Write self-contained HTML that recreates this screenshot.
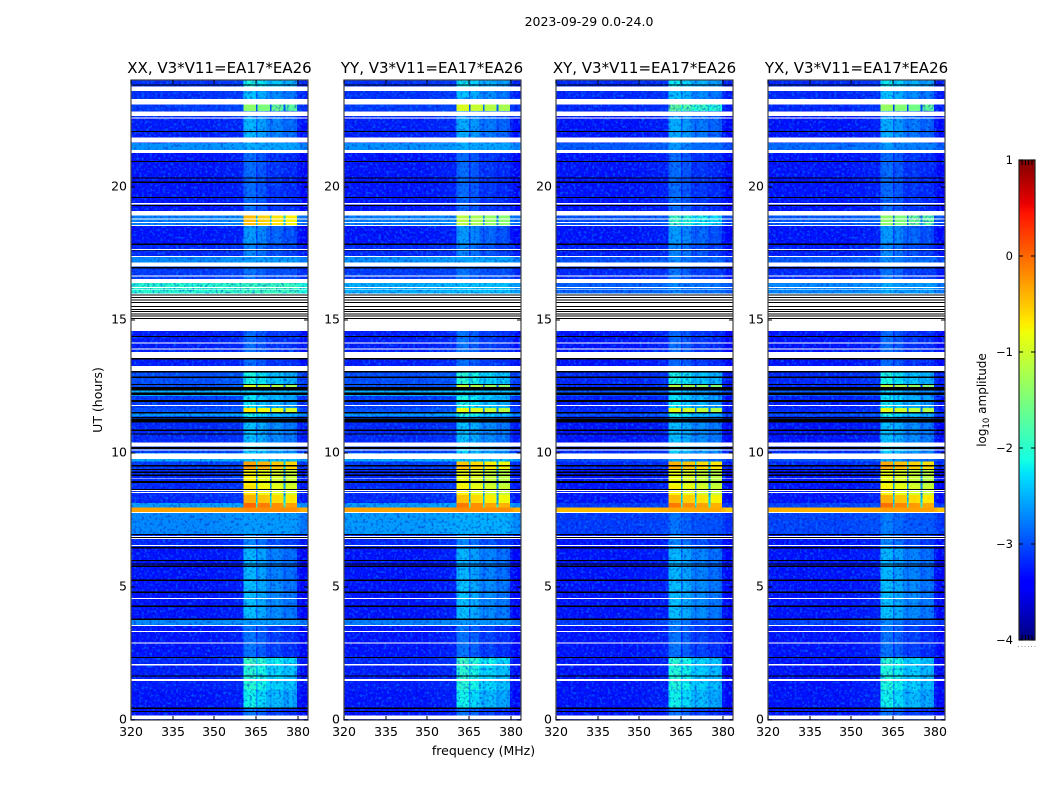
<!DOCTYPE html>
<html lang="en">
<head>
<meta charset="utf-8">
<title>2023-09-29 0.0-24.0</title>
<style>
html,body{margin:0;padding:0;background:#fff;}
svg{display:block;}
text{font-family:"DejaVu Sans","Liberation Sans",sans-serif;fill:#000;}
</style>
</head>
<body>
<svg id="chart" xmlns="http://www.w3.org/2000/svg" width="1050" height="800" viewBox="0 0 1050 800">
  <defs>
    <filter id="speckle-light" x="0" y="0" width="100%" height="100%" color-interpolation-filters="sRGB">
      <feTurbulence type="fractalNoise" baseFrequency="0.38" numOctaves="2" seed="3"/>
      <feColorMatrix type="matrix" values="0 0 0 0 0  0 0 0 0 0.6  0 0 0 0 1  4 0 0 0 -2.0"/>
    </filter>
    <filter id="speckle-dark" x="0" y="0" width="100%" height="100%" color-interpolation-filters="sRGB">
      <feTurbulence type="fractalNoise" baseFrequency="0.38" numOctaves="2" seed="11"/>
      <feColorMatrix type="matrix" values="0 0 0 0 0  0 0 0 0 0  0 0 0 0 0.7  0 4 0 0 -2.0"/>
    </filter>
  </defs>
  <rect x="0" y="0" width="1050" height="800" fill="#fff"/>
  <text x="589" y="26" font-size="12.5" text-anchor="middle">2023-09-29 0.0-24.0</text>
  <text transform="translate(102,400) rotate(-90)" font-size="12.5" text-anchor="middle">UT (hours)</text>
  <text x="483.5" y="755" font-size="12.5" text-anchor="middle">frequency (MHz)</text>
  <text transform="translate(986,400) rotate(-90)" font-size="12" text-anchor="middle">log<tspan font-size="8.5" dy="3">10</tspan><tspan dy="-3"> amplitude</tspan></text>
  <g id="panels"></g>
  <g id="colorbar"></g>
</svg>
<script>
// ---- Axis data ----
const xTicks = [320, 335, 350, 365, 380];
const yTicks = [0, 5, 10, 15, 20];
const colorbarTicks = [1, 0, -1, -2, -3, -4];
const panelTitles = ["XX, V3*V11=EA17*EA26", "YY, V3*V11=EA17*EA26", "XY, V3*V11=EA17*EA26", "YX, V3*V11=EA17*EA26"];

// ---- Frequency channels (MHz edges) and their RFI-block offsets (log10) ----
const channelEdges = [320,326,332,338,344,350,354,358,360.4,361.5,363,365,365.6,367,368.5,370,370.6,372,373.5,374.8,375.6,377,378.5,379.8,381,383.7];
const channelStrongOffset = [-9,-9,-9,-9,-9,-9,-9,-9,0.1,0.12,0.1,-1.8,0,0,-0.02,-1.8,-0.12,-0.1,-0.14,-1.8,-0.2,-0.18,-0.2,-9,-9];
const channelQuietOffset = [-9,-9,-9,-9,-9,-9,-9,-9,-0.05,0,0,-0.45,-0.1,-0.12,-0.3,-0.45,-0.3,-0.25,-0.3,-0.5,-0.4,-0.35,-0.45,-9,-9];
const channelBaseShift = [0,0,0,0,0,0.03,0.05,0.06,0.1,0.1,0.1,0.1,0.1,0.1,0.1,0.1,0.1,0.1,0.1,0.1,0.1,0.1,0.1,0.02,-0.08];

// ---- Time bands (UT hour edges) ----
const bandEdges = [0,0.45,1.125,2.1,2.36,3.56,3.75,5.25,6.49,6.98,7.8,7.97,8.14,8.44,8.81,9.38,9.69,10.01,10.39,11.25,11.4,11.51,11.7,12.15,12.38,12.56,13.05,14.59,15.98,16.39,17.14,17.36,17.85,18.54,18.91,21.26,21.64,22.58,22.84,23.1,23.59,24];

// ---- Log10 amplitude per time band, one background and one RFI series per panel ----
const baseXX = [-3.3,-3.3,-3.25,-3.2,-3.3,-2.7,-3.3,-3.3,-3.2,-2.7,-0.3,-2.6,-3.2,-3.2,-3.2,-3.1,-2.5,-3.1,-3.2,-3.0,-2.6,-3.0,-3.1,-2.5,-3.0,-3.0,-3.25,-3.3,-2.0,-3.1,-2.7,-3.2,-3.3,-2.75,-3.3,-2.65,-3.25,-3.2,-3.1,-3.15,-3.15];
const rfiXX = [-2.8,-2.15,-2.0,-1.9,-2.8,-2.6,-2.4,-2.45,-2.7,-2.7,-0.3,-0.1,-0.5,-0.75,-0.85,-0.4,-2.4,-2.3,-2.4,-2.3,-2.1,-0.8,-2.2,-2.3,-1.1,-2.1,-2.85,-2.9,-1.9,-2.8,-2.6,-2.7,-2.6,-0.55,-2.85,-2.5,-2.45,-2.6,-1.5,-2.4,-2.1];
const baseYY = [-3.3,-3.3,-3.25,-3.2,-3.3,-2.75,-3.3,-3.3,-3.2,-2.6,-0.3,-2.6,-3.2,-3.2,-3.2,-3.1,-2.5,-3.1,-3.2,-3.0,-2.6,-3.0,-3.1,-2.5,-3.0,-3.0,-3.25,-3.3,-2.5,-3.1,-2.65,-3.2,-3.3,-2.75,-3.3,-2.65,-3.25,-3.2,-3.1,-3.15,-3.15];
const rfiYY = [-2.8,-2.15,-2.0,-1.9,-2.8,-2.6,-2.4,-2.45,-2.7,-2.6,-0.3,-0.2,-0.6,-0.85,-0.95,-0.6,-2.4,-2.3,-2.4,-2.3,-2.0,-0.95,-2.1,-2.2,-1.2,-2.0,-2.8,-2.9,-2.4,-2.8,-2.6,-2.7,-2.6,-1.25,-2.85,-2.5,-2.5,-2.6,-1.05,-2.4,-2.2];
const baseXY = [-3.3,-3.3,-3.3,-3.3,-3.3,-3.1,-3.3,-3.3,-3.3,-3.1,-0.45,-3.1,-3.3,-3.3,-3.3,-3.2,-3.0,-3.2,-3.3,-3.2,-3.0,-3.2,-3.25,-3.0,-3.2,-3.2,-3.3,-3.3,-2.9,-3.2,-3.0,-3.25,-3.3,-3.0,-3.3,-2.95,-3.3,-3.3,-3.2,-3.2,-3.2];
const rfiXY = [-2.8,-2.15,-2.05,-2.0,-2.8,-2.7,-2.4,-2.45,-2.7,-2.8,-0.45,-0.2,-0.55,-0.85,-0.95,-0.5,-2.5,-2.3,-2.4,-2.3,-2.1,-1.0,-2.2,-2.3,-1.3,-2.1,-2.85,-2.9,-2.7,-2.8,-2.7,-2.7,-2.6,-1.9,-2.85,-2.6,-2.5,-2.6,-1.65,-2.4,-2.2];
const baseYX = [-3.3,-3.3,-3.3,-3.3,-3.3,-3.05,-3.3,-3.3,-3.3,-3.05,-0.4,-3.05,-3.3,-3.3,-3.3,-3.2,-2.95,-3.2,-3.3,-3.2,-3.0,-3.2,-3.25,-2.95,-3.2,-3.2,-3.3,-3.3,-2.7,-3.2,-2.95,-3.25,-3.3,-2.95,-3.3,-2.85,-3.3,-3.3,-3.2,-3.2,-3.2];
const rfiYX = [-2.8,-2.15,-2.05,-2.0,-2.8,-2.7,-2.4,-2.45,-2.7,-2.75,-0.4,-0.15,-0.5,-0.85,-0.95,-0.45,-2.5,-2.3,-2.4,-2.3,-2.1,-1.0,-2.2,-2.3,-1.25,-2.1,-2.85,-2.9,-2.5,-2.8,-2.65,-2.7,-2.6,-1.5,-2.85,-2.6,-2.5,-2.6,-1.45,-2.4,-2.2];

// ---- Flagged (white) and missing (black) time ranges, UT hours ----
const flaggedStart = [23.59,23.09,22.65,22.55,21.65,21.26,19.34,18.91,18.77,18.64,18.53,17.63,17.36,17.0,16.64,16.39,16.2,16.13,14.59,14.12,13.89,13.58,13.09,11.78,10.25,10.11,9.78,9.03,8.59,8.51,7.76,6.86,6.79,6.53,4.54,3.53,3.3,2.87,2.04,1.46,0.04];
const flaggedEnd = [23.75,23.29,22.81,22.59,21.84,21.38,19.38,19.09,18.81,18.68,18.56,17.66,17.4,17.15,16.67,16.54,16.24,16.14,16.0,14.16,13.93,13.8,13.28,11.81,10.4,10.14,10.0,9.06,8.63,8.55,7.8,6.9,6.83,6.56,4.58,3.56,3.34,2.91,2.1,1.54,0.17];
const missingStart = [23.8,22.05,20.93,20.31,20.14,19.58,19.28,17.81,17.58,16.93,15.92,15.83,15.73,15.64,15.49,15.38,15.30,15.21,15.13,15.04,14.36,13.52,13.03,12.83,12.57,12.36,12.18,11.93,11.5,11.31,11.15,10.84,10.71,10.16,9.51,9.38,9.26,9.15,8.89,8.63,6.93,6.83,6.43,5.96,5.83,5.74,5.21,4.76,4.24,3.75,2.33,1.63,0.42,0.3];
const missingEnd = [23.83,22.09,20.96,20.34,20.19,19.61,19.32,17.86,17.61,16.99,15.96,15.86,15.77,15.68,15.53,15.41,15.34,15.24,15.16,15.08,14.4,13.58,13.09,12.88,12.6,12.49,12.28,12.0,11.55,11.36,11.29,10.89,10.74,10.24,9.56,9.42,9.31,9.2,8.96,8.66,6.98,6.86,6.49,6.0,5.87,5.79,5.27,4.82,4.29,3.81,2.37,1.67,0.47,0.34];

// ---- Layout and scales ----
const NS = "http://www.w3.org/2000/svg";
const panelSeries = [[baseXX, rfiXX], [baseYY, rfiYY], [baseXY, rfiXY], [baseYX, rfiYX]];
const panelKeys = ["xx", "yy", "xy", "yx"];
const panelLeft = [131, 344, 556, 768];
const panelWidth = 177;
const plotTop = 80;
const plotBottom = 720;
const freqMin = channelEdges[0];
const freqMax = channelEdges[channelEdges.length - 1];
const hourMax = 24;
const cbarLeft = 1019, cbarWidth = 16, cbarTop = 160, cbarBottom = 640;
const levelMin = -4, levelMax = 1;

function xScale(left, mhz) { return left + (mhz - freqMin) / (freqMax - freqMin) * panelWidth; }
function yScale(hour) { return plotBottom - hour / hourMax * (plotBottom - plotTop); }
function cbarScale(level) { return cbarBottom - (level - levelMin) / (levelMax - levelMin) * (cbarBottom - cbarTop); }

function lerpStops(t, stops) {
  if (t <= stops[0][0]) return stops[0][1];
  for (let i = 1; i < stops.length; i++) {
    if (t <= stops[i][0]) {
      const a = stops[i - 1], b = stops[i];
      return a[1] + (b[1] - a[1]) * (t - a[0]) / (b[0] - a[0]);
    }
  }
  return stops[stops.length - 1][1];
}
const jetRed = [[0, 0], [0.35, 0], [0.66, 1], [0.89, 1], [1, 0.5]];
const jetGreen = [[0, 0], [0.125, 0], [0.375, 1], [0.64, 1], [0.91, 0], [1, 0]];
const jetBlue = [[0, 0.5], [0.11, 1], [0.34, 1], [0.65, 0], [1, 0]];
function jetColor(level) {
  const t = Math.max(0, Math.min(1, (level - levelMin) / (levelMax - levelMin)));
  const r = Math.round(255 * lerpStops(t, jetRed));
  const g = Math.round(255 * lerpStops(t, jetGreen));
  const b = Math.round(255 * lerpStops(t, jetBlue));
  return "rgb(" + r + "," + g + "," + b + ")";
}

function makeEl(tag, parent) {
  const el = document.createElementNS(NS, tag);
  parent.appendChild(el);
  return el;
}
function setRect(el, x, y, w, h, fill) {
  el.setAttribute("x", x);
  el.setAttribute("y", y);
  el.setAttribute("width", w);
  el.setAttribute("height", h);
  el.setAttribute("fill", fill);
  el.setAttribute("shape-rendering", "crispEdges");
}
function setLine(el, x1, y1, x2, y2, color) {
  el.setAttribute("x1", x1);
  el.setAttribute("y1", y1);
  el.setAttribute("x2", x2);
  el.setAttribute("y2", y2);
  el.setAttribute("stroke", color);
  el.setAttribute("stroke-width", 1);
  el.setAttribute("shape-rendering", "crispEdges");
}

const panelsRoot = document.getElementById("panels");

panelSeries.forEach(function (series, p) {
  const left = panelLeft[p];
  const base = series[0];
  const rfi = series[1];
  const group = makeEl("g", panelsRoot);
  
  

  const title = makeEl("text", group);
  
  
  title.setAttribute("x", left + panelWidth / 2 + (p === 1 ? -0.5 : 0));
  title.setAttribute("y", 73);
  title.setAttribute("font-size", "15");
  title.setAttribute("text-anchor", "middle");
  title.textContent = panelTitles[p];

  const quietCells = makeEl("g", group);
  
  

  const speckleA = makeEl("rect", group);
  
  
  speckleA.setAttribute("x", left);
  speckleA.setAttribute("y", plotTop);
  speckleA.setAttribute("width", panelWidth);
  speckleA.setAttribute("height", plotBottom - plotTop);
  speckleA.setAttribute("filter", "url(#speckle-light)");
  speckleA.setAttribute("opacity", "0.5");

  const speckleB = makeEl("rect", group);
  
  
  speckleB.setAttribute("x", left);
  speckleB.setAttribute("y", plotTop);
  speckleB.setAttribute("width", panelWidth);
  speckleB.setAttribute("height", plotBottom - plotTop);
  speckleB.setAttribute("filter", "url(#speckle-dark)");
  speckleB.setAttribute("opacity", "0.4");

  const hotCells = makeEl("g", group);
  
  

  for (let b = 0; b < base.length; b++) {
    const yTop = yScale(bandEdges[b + 1]);
    const yBot = yScale(bandEdges[b]);
    const profile = rfi[b] > -1.6 ? channelStrongOffset : channelQuietOffset;
    for (let c = 0; c < profile.length; c++) {
      const level = Math.max(base[b] + channelBaseShift[c], rfi[b] + profile[c]);
      const xA = xScale(left, channelEdges[c]);
      const xB = xScale(left, channelEdges[c + 1]);
      const cell = makeEl("rect", level > -1.6 ? hotCells : quietCells);
      
      
      setRect(cell, xA, yTop, xB - xA, yBot - yTop, jetColor(level));
    }
  }

  flaggedStart.forEach(function (start, i) {
    const band = makeEl("rect", group);
    
    
    setRect(band, left, yScale(flaggedEnd[i]), panelWidth, yScale(start) - yScale(flaggedEnd[i]), "#fff");
  });
  missingStart.forEach(function (start, i) {
    const band = makeEl("rect", group);
    
    
    setRect(band, left, yScale(missingEnd[i]), panelWidth, yScale(start) - yScale(missingEnd[i]), "#000");
  });

  const frame = makeEl("rect", group);
  
  
  frame.setAttribute("x", left);
  frame.setAttribute("y", plotTop);
  frame.setAttribute("width", panelWidth);
  frame.setAttribute("height", plotBottom - plotTop);
  frame.setAttribute("fill", "none");
  frame.setAttribute("stroke", "#444");
  frame.setAttribute("stroke-width", "1.2");

  xTicks.forEach(function (tick) {
    const x = Math.round(xScale(left, tick));
    const low = makeEl("line", group);
    
    
    setLine(low, x, plotBottom, x, plotBottom - 4, "#000");
    const high = makeEl("line", group);
    
    
    setLine(high, x, plotTop, x, plotTop + 4, "#000");
    const label = makeEl("text", group);
    
    
    label.setAttribute("x", x);
    label.setAttribute("y", 736);
    label.setAttribute("font-size", "12.5");
    label.setAttribute("text-anchor", "middle");
    label.textContent = tick;
  });

  yTicks.forEach(function (tick) {
    const y = Math.round(yScale(tick));
    const low = makeEl("line", group);
    
    
    setLine(low, left, y, left + 4, y, "#000");
    const high = makeEl("line", group);
    
    
    setLine(high, left + panelWidth - 4, y, left + panelWidth, y, "#000");
    const label = makeEl("text", group);
    
    
    label.setAttribute("x", left - 4);
    label.setAttribute("y", y + 3.6);
    label.setAttribute("font-size", "12.5");
    label.setAttribute("text-anchor", "end");
    label.textContent = tick;
  });
});

// ---- Colorbar ----
const cbarRoot = document.getElementById("colorbar");
for (let py = cbarTop; py < cbarBottom; py += 2) {
  const level = levelMax - (py + 1 - cbarTop) / (cbarBottom - cbarTop) * (levelMax - levelMin);
  const strip = makeEl("rect", cbarRoot);
  
  
  setRect(strip, cbarLeft, py, cbarWidth, 2, jetColor(level));
}
const cbarFrame = makeEl("rect", cbarRoot);


cbarFrame.setAttribute("x", cbarLeft);
cbarFrame.setAttribute("y", cbarTop);
cbarFrame.setAttribute("width", cbarWidth);
cbarFrame.setAttribute("height", cbarBottom - cbarTop);
cbarFrame.setAttribute("fill", "none");
cbarFrame.setAttribute("stroke", "#222");
cbarFrame.setAttribute("stroke-width", "1.2");

colorbarTicks.forEach(function (tick) {
  const y = Math.round(cbarScale(tick));
  const lo = makeEl("line", cbarRoot);
  
  
  setLine(lo, cbarLeft, y, cbarLeft + 4, y, "#000");
  const hi = makeEl("line", cbarRoot);
  
  
  setLine(hi, cbarLeft + cbarWidth - 4, y, cbarLeft + cbarWidth, y, "#000");
  const label = makeEl("text", cbarRoot);
  
  
  label.setAttribute("x", cbarLeft - 6);
  label.setAttribute("y", y + 4);
  label.setAttribute("font-size", "11.5");
  label.setAttribute("text-anchor", "end");
  label.textContent = String(tick).replace("-", "\u2212");
});

// Small end ticks at the top and bottom of the colorbar, plus the tiny row of dots below it
for (let k = 1; k <= 4; k++) {
  const x = cbarLeft + k * cbarWidth / 5;
  const topTick = makeEl("line", cbarRoot);
  
  
  setLine(topTick, x, cbarTop, x, cbarTop + 5, "#000");
  const botTick = makeEl("line", cbarRoot);
  
  
  setLine(botTick, x, cbarBottom - 5, x, cbarBottom, "#000");
}
for (let k = 0; k <= 5; k++) {
  const dot = makeEl("rect", cbarRoot);
  
  
  setRect(dot, cbarLeft - 1 + k * 3.3, 646, 1, 1, "#999");
}
</script>
</body>
</html>
